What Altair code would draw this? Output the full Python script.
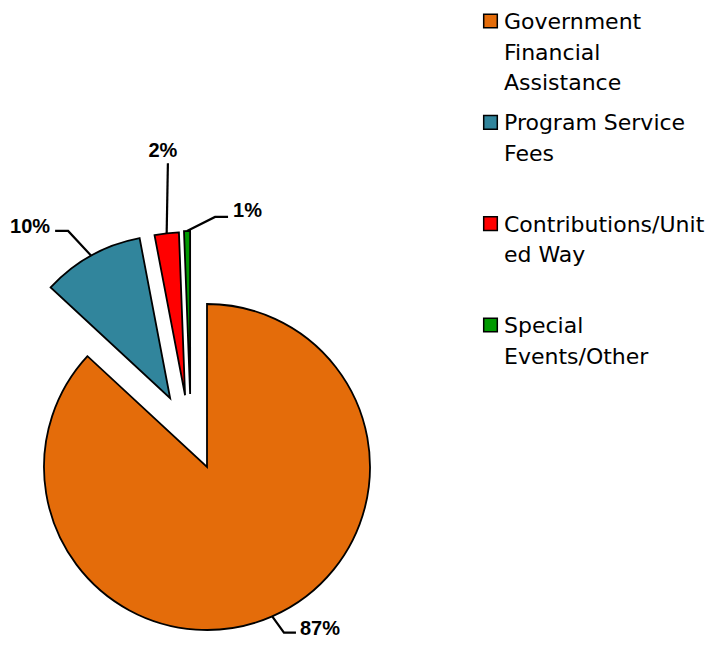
import math
import pandas as pd
import altair as alt

# ---------------- data ----------------
CATEGORIES = [
    "Government Financial Assistance",
    "Program Service Fees",
    "Contributions/United Way",
    "Special Events/Other",
]
LEGEND_TEXT = [
    "Government\nFinancial\nAssistance",
    "Program Service\nFees",
    "Contributions/Unit\ned Way",
    "Special\nEvents/Other",
]
VALUES = [86.9, 10.1, 2.4, 0.6]
COLORS = ["#E46C0A", "#31859C", "#FF0000", "#009A00"]

# ---------------- style ----------------
CX, CY, R = 199, 459, 163          # pie centre / radius (plot pixels)
# explode: (distance, direction in degrees clockwise from 12 o'clock)
EXPLODE = [(0, 0), (78, 331.8), (75, 343.0), (75, 347.0)]
# label leader: leg direction, leg length, horizontal tail, text align, text dx, dy
LABEL_STYLE = [
    (144, 20, 12, "left", 4, 2),
    (317, 33.8, -13, "right", -5, 2),
    (1, 70, 0, "center", -5, -6),
    (63.4, 31.3, 13, "left", 5, 0),
]
LEG_TOP, LEG_BOTTOM = 21, 325


def polar(x, y, r, deg):
    a = math.radians(deg)
    return x + r * math.sin(a), y - r * math.cos(a)


total = sum(VALUES)
pie_rows, lead_rows, text_rows = [], [], []
acc = 0.0
for i, (cat, v) in enumerate(zip(CATEGORIES, VALUES)):
    start, end = acc, acc + v
    acc = end
    mid = (start + end) / 2 / total * 360
    dist, ddir = EXPLODE[i]
    cx, cy = polar(CX, CY, dist, ddir)
    pie_rows.append(dict(category=cat, start=start, end=end, cx=cx, cy=cy))
    legdir, leglen, tail, align, dx, dy = LABEL_STYLE[i]
    ax, ay = polar(cx, cy, R, mid)
    ex, ey = polar(ax, ay, leglen, legdir)
    tx = ex + tail
    lead_rows += [
        dict(category=cat, seq=0, x=ax, y=ay),
        dict(category=cat, seq=1, x=ex, y=ey),
        dict(category=cat, seq=2, x=tx, y=ey),
    ]
    text_rows.append(dict(category=cat, label=f"{round(v / total * 100)}%",
                          x=tx + dx, y=ey + dy, align=align))

pie_df = pd.DataFrame(pie_rows)
lead_df = pd.DataFrame(lead_rows)
text_df = pd.DataFrame(text_rows)
leg_df = pd.DataFrame({"category": CATEGORIES, "text": LEGEND_TEXT})

color = alt.Color("category:N", scale=alt.Scale(domain=CATEGORIES, range=COLORS), legend=None)
px = lambda f: alt.X(f, scale=None, axis=None, stack=False)
py = lambda f: alt.Y(f, scale=None, axis=None, stack=False)

arcs = alt.Chart(pie_df).mark_arc(radius=R, stroke="black", strokeWidth=1.8).encode(
    theta=alt.Theta("start:Q", scale=alt.Scale(domain=[0, total]), stack=False),
    theta2="end:Q",
    x=px("cx:Q"),
    y=py("cy:Q"),
    color=color,
)

leaders = alt.Chart(lead_df).mark_line(color="black", strokeWidth=2.2).encode(
    x=px("x:Q"), y=py("y:Q"), detail="category:N", order="seq:Q"
)

label_layers = []
for a in ["left", "right", "center"]:
    label_layers.append(
        alt.Chart(text_df)
        .transform_filter(alt.datum.align == a)
        .mark_text(align=a, baseline="alphabetic", font="Liberation Sans",
                   fontSize=20, fontWeight="bold", color="black")
        .encode(x=px("x:Q"), y=py("y:Q"), text="label:N")
    )

leg_y = alt.Y("category:N", axis=None,
              scale=alt.Scale(type="point", domain=CATEGORIES,
                              range=[LEG_TOP, LEG_BOTTOM], padding=0))
squares = alt.Chart(leg_df).mark_square(size=185, stroke="black", strokeWidth=1.5,
                                        opacity=1, yOffset=-8).encode(
    x=alt.value(482.5), y=leg_y, color=color
)
leg_text = alt.Chart(leg_df).mark_text(align="left", baseline="alphabetic", lineBreak="\n",
                                       lineHeight=30.5, font="DejaVu Sans", fontSize=22,
                                       color="black").encode(
    x=alt.value(496), y=leg_y, text="text:N"
)

chart = (
    alt.layer(arcs, leaders, *label_layers, squares, leg_text)
    .resolve_scale(y="independent", x="independent")
    .properties(width=702, height=632, padding=0,
                autosize=alt.AutoSizeParams(type="none"))
    .configure_view(stroke=None)
)

chart.save("out.html", embed_options={"renderer": "svg", "actions": False})
